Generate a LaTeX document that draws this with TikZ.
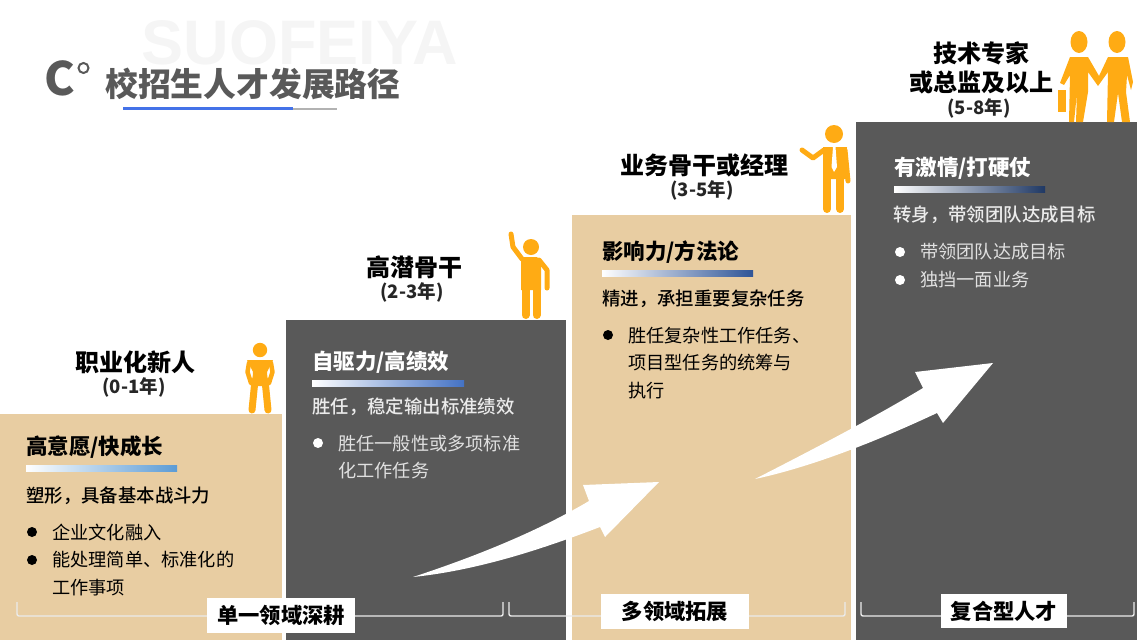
\documentclass[tikz,border=0pt]{standalone}
\usepackage{fontspec}
\setmainfont{Noto Sans CJK SC}
\newfontfamily\medcjk{Noto Sans CJK SC Medium}
\setsansfont{Liberation Sans}
\usetikzlibrary{positioning}
\definecolor{stepdark}{HTML}{595959}
\definecolor{steptan}{HTML}{E8CDA2}
\definecolor{manorange}{HTML}{FFAB14}
\definecolor{lineblue}{HTML}{4472E8}
\definecolor{barblue}{HTML}{5B9BD5}
\definecolor{barmid}{HTML}{4472C4}
\definecolor{barnavy}{HTML}{2F5597}
\definecolor{bardeep}{HTML}{1F3864}
\tikzset{
  rolename/.style={font=\fontsize{24}{29}\selectfont\bfseries,align=center,text=black},
  yearname/.style={font=\fontsize{18.5}{22}\selectfont\bfseries,text=black!85},
  subhead/.style={anchor=west,font=\fontsize{21.5}{26}\selectfont\bfseries,inner sep=0},
  keyline/.style={anchor=west,font=\fontsize{18.4}{24}\medcjk,inner sep=0},
  bulltext/.style={anchor=west,font=\fontsize{18.2}{27.6}\selectfont,align=left,inner sep=0},
  fieldbox/.style={fill=white,text=black,font=\fontsize{21.3}{26}\selectfont\bfseries,inner sep=0},
  bracketline/.style={draw=white!92!black,line width=1.4pt,rounded corners=2pt},
  limb/.style={draw=manorange,line cap=round,line join=round},
}
\begin{document}
\begin{tikzpicture}[x=1pt,y=-1pt]
  \useasboundingbox (0,0) rectangle (1137,640);
  \node[text=black!4,font=\fontsize{63}{70}\sffamily\bfseries,inner sep=0] (mark) at (300,43) {SUOFEIYA};
  \node[text=stepdark,font=\fontsize{46}{50}\selectfont\bfseries,inner sep=0] (clogo) at (60,78) {C};
  \draw[stepdark,line width=2pt] (83.5,68) circle (5pt);
  \node[anchor=west,text=stepdark,font=\fontsize{32.8}{38}\selectfont\bfseries,inner sep=0] (title) at (105,84) {校招生人才发展路径};
  \fill[gray!60] (123,107.5) rectangle (337,109.5);
  \fill[lineblue] (123,107) rectangle (293,110);
  \fill[steptan] (0,414) rectangle (282,640);
  \fill[stepdark] (286,320) rectangle (566,640);
  \fill[steptan] (572,215) rectangle (851,640);
  \fill[stepdark] (856,122) rectangle (1137,640);
  \fill[left color=white,right color=barblue] (26,465) rectangle (177,471);
  \fill[left color=white,right color=barmid] (312,380) rectangle (464,386);
  \fill[left color=white,right color=barnavy] (602,270) rectangle (753,276);
  \fill[left color=white,right color=bardeep] (894,186) rectangle (1045,192);
  \fill[white] (413,577) .. controls (480,555) and (540,530) .. (589,501) -- (583,485) -- (659,482) -- (605,537) -- (600,527) .. controls (545,548) and (480,570) .. cycle;
  \fill[white] (755,479) .. controls (800,456) and (870,420) .. (923,388) -- (915,372) -- (993,363) -- (943,423) -- (937,413) .. controls (890,435) and (820,465) .. cycle;
  \node[rolename] (role1) at (135,362) {职业化新人};
  \node[yearname] (year1) at (134,387) {(0-1年)};
  \node[rolename] (role2) at (414,267) {高潜骨干};
  \node[yearname] (year2) at (412,292) {(2-3年)};
  \node[rolename] (role3) at (704,165) {业务骨干或经理};
  \node[yearname] (year3) at (702,190) {(3-5年)};
  \node[rolename] (role4) at (981,67.5) {技术专家\\或总监及以上};
  \node[yearname] (year4) at (979,108) {(5-8年)};
  \node[subhead] (head1) at (26,447) {高意愿/快成长};
  \node[keyline] (key1) at (26,496) {塑形，具备基本战斗力};
  \fill (32,532) circle (5pt) (32,560) circle (5pt);
  \node[bulltext] (item1a) at (52,532) {企业文化融入};
  \node[bulltext] (item1b) at (52,573.5) {能处理简单、标准化的\\工作事项};
  \node[subhead,text=white] (head2) at (312,362) {自驱力/高绩效};
  \node[keyline,text=white!92!black] (key2) at (312,407) {胜任，稳定输出标准绩效};
  \fill[white] (318,443) circle (5pt);
  \node[bulltext,text=white!88!black] (item2a) at (338,457) {胜任一般性或多项标准\\化工作任务};
  \node[subhead] (head3) at (602,252) {影响力/方法论};
  \node[keyline] (key3) at (602,299) {精进，承担重要复杂任务};
  \fill (608,335) circle (5pt);
  \node[bulltext] (item3a) at (628,363) {胜任复杂性工作任务、\\项目型任务的统筹与\\执行};
  \node[subhead,text=white] (head4) at (894,168) {有激情/打硬仗};
  \node[keyline,text=white!92!black] (key4) at (893,215) {转身，带领团队达成目标};
  \fill[white] (900,252) circle (5pt) (900,280) circle (5pt);
  \node[bulltext,text=white!88!black] (item4a) at (920,252) {带领团队达成目标};
  \node[bulltext,text=white!88!black] (item4b) at (920,280) {独挡一面业务};
  \coordinate (brk1a) at (17,602);
  \coordinate (brk1b) at (503,602);
  \coordinate (brk2a) at (509,602);
  \coordinate (brk2b) at (845,602);
  \coordinate (brk3a) at (861,602);
  \coordinate (brk3b) at (1134,602);
  \draw[bracketline] (brk1a) -- ++(0,14) -| (brk1b);
  \draw[bracketline] (brk2a) -- ++(0,14) -| (brk2b);
  \draw[bracketline] (brk3a) -- ++(0,14) -| (brk3b);
  \node[fieldbox,minimum width=148pt,minimum height=35pt] (field1) at (281,615) {单一领域深耕};
  \node[fieldbox,minimum width=148pt,minimum height=35pt] (field2) at (675,611.5) {多领域拓展};
  \node[fieldbox,minimum width=126pt,minimum height=34pt] (field3) at (1004,611) {复合型人才};
  \fill[manorange] (260,350) circle (7.2pt);
  \fill[manorange] (247,360) -- (273,360) -- (267,372) -- (268,386) -- (252,386) -- (253,372) -- cycle;
  \draw[limb,line width=4.5pt] (249,363) -- (247.5,372) -- (251,383);
  \draw[limb,line width=4.5pt] (271,363) -- (272.5,372) -- (269,383);
  \draw[limb,line width=7pt] (255,380) -- (252,410);
  \draw[limb,line width=7pt] (265,380) -- (268,410);
  \fill[manorange] (531,247) circle (8pt);
  \fill[manorange] (521,257) -- (537,257) -- (541,262) -- (541,290) -- (521,290) -- cycle;
  \draw[limb,line width=5pt] (511,234) -- (513,247) -- (522,259);
  \draw[limb,line width=5pt] (539,260) -- (547,270) -- (547,288);
  \draw[limb,line width=8pt] (525.5,285) -- (525.5,315);
  \draw[limb,line width=8pt] (536.5,285) -- (536.5,315);
  \fill[manorange] (834,134) circle (9pt);
  \fill[manorange] (823,147) -- (847,147) -- (846,179) -- (823,179) -- cycle;
  \draw[limb,line width=5pt] (802,150) -- (813,158) -- (824,150);
  \draw[limb,line width=5pt] (845,150) -- (848,181);
  \draw[limb,line width=8pt] (827,175) -- (827,209);
  \draw[limb,line width=8pt] (840,175) -- (840,209);
  \fill[white] (833,147) -- (835.5,147) -- (837,167) -- (834,172) -- (831.5,167) -- cycle;
  \fill[manorange] (1079,42) ellipse (8.5pt and 11pt);
  \fill[manorange] (1117,42) ellipse (8.5pt and 11pt);
  \fill[manorange] (1070,57) -- (1088,57) -- (1099,76) -- (1108,57) -- (1128,57) -- (1133,82) -- (1131,90) -- (1127,75) -- (1126,92) -- (1130,122) -- (1122,122) -- (1118,93) -- (1114,122) -- (1107,122) -- (1108,72) -- (1098,86) -- (1088,72) -- (1088,92) -- (1083,122) -- (1076,122) -- (1077,93) -- (1074,122) -- (1069,122) -- (1070,75) -- (1064,85) -- (1060,83) -- cycle;
  \fill[manorange] (1058,90) rectangle (1066,112);
\end{tikzpicture}
\end{document}
